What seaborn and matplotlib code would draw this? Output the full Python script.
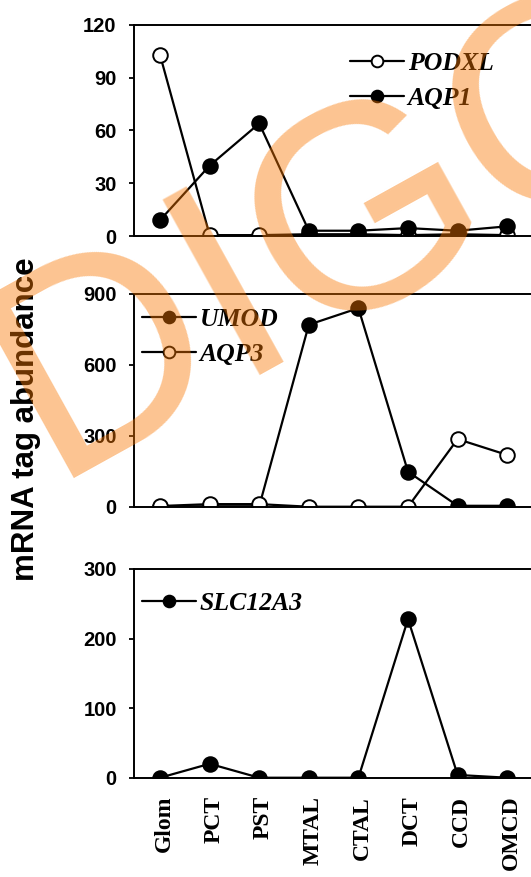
import numpy as np
import pandas as pd
import seaborn as sns
import matplotlib.pyplot as plt
from matplotlib.transforms import ScaledTranslation

# data
tissues = ["Glom", "PCT", "PST", "MTAL", "CTAL", "DCT", "CCD", "OMCD"]
podxl = [103, 0.5, 0.5, 1, 1, 0.5, 1, 0.5]
aqp1 = [9, 40, 64, 3, 3, 4.5, 3, 5.5]
umod = [0, 2, 2, 770, 840, 148, 4, 4]
aqp3 = [3, 11, 11, 0, 0, 0, 286, 219]
slc12a3 = [0, 20, 0, 0, 0, 228, 4, 0]

sns.set_style('ticks')
plt.rcParams['font.family'] = ['Liberation Sans', 'DejaVu Sans']
plt.rcParams['text.color'] = 'black'
plt.rcParams['xtick.color'] = 'black'
plt.rcParams['ytick.color'] = 'black'
plt.rcParams['axes.labelcolor'] = 'black'

fig = plt.figure(figsize=(5.31, 8.77), dpi=100)
ax1 = fig.add_axes([0.2524, 0.7309, 0.7514, 0.2406])
ax2 = fig.add_axes([0.2524, 0.4222, 0.7514, 0.2426])
ax3 = fig.add_axes([0.2524, 0.1132, 0.7514, 0.2380])

filled = dict(color='black', linewidth=1.6, marker='o', markersize=10.5,
              markerfacecolor='black', markeredgecolor='black', markeredgewidth=1.4)
hollow = dict(color='black', linewidth=1.6, marker='o', markersize=10.5,
              markerfacecolor='white', markeredgecolor='black', markeredgewidth=1.4)

sns.lineplot(x=tissues, y=podxl, ax=ax1, sort=False, label='PODXL', **hollow)
sns.lineplot(x=tissues, y=aqp1, ax=ax1, sort=False, label='AQP1', **filled)
sns.lineplot(x=tissues, y=umod, ax=ax2, sort=False, label='UMOD', **filled)
sns.lineplot(x=tissues, y=aqp3, ax=ax2, sort=False, label='AQP3', **hollow)
sns.lineplot(x=tissues, y=slc12a3, ax=ax3, sort=False, label='SLC12A3', **filled)

leg_font = dict(family='Liberation Serif', weight='bold', style='italic', size=18.5)
setup = [(ax1, [0, 30, 60, 90, 120], (0.541, 0.735)),
         (ax2, [0, 300, 600, 900], (0.02, 0.798)),
         (ax3, [0, 100, 200, 300], (0.02, 0.837))]
for ax, ticks, anchor in setup:
    ax.set_xlim(-0.524, 7.52)
    ax.set_ylim(0, ticks[-1])
    ax.set_yticks(ticks)
    ax.set_xlabel('')
    ax.set_ylabel('')
    for s in ax.spines.values():
        s.set_linewidth(1.4)
        s.set_color('black')
    ax.spines['right'].set_visible(False)
    ax.tick_params(axis='y', length=3.5, width=1.3, pad=9, labelsize=14.5)
    for t in ax.get_yticklabels():
        t.set_fontweight('bold')
    ax.tick_params(axis='x', length=0)
    leg = ax.legend(loc='center left', bbox_to_anchor=anchor, frameon=False,
                    prop=leg_font, handlelength=2.1, handletextpad=0.15,
                    borderpad=0, borderaxespad=0, labelspacing=0.45, markerscale=0.8)
    for t in leg.get_texts():
        t.set_color('black')

ax1.set_xticklabels([])
ax2.set_xticklabels([])
ax3.set_xticks(range(len(tissues)))
ax3.set_xticklabels(tissues, rotation=90, family='Liberation Serif',
                    weight='bold', size=17, va='top')
ax3.tick_params(axis='x', pad=13)
shift = ScaledTranslation(4 / 100, 0, fig.dpi_scale_trans)
for t in ax3.get_xticklabels():
    t.set_transform(t.get_transform() + shift)

fig.text(0.049, 0.522, 'mRNA tag abundance', rotation=90, ha='center', va='center',
         fontsize=22.5, fontweight='bold')

# watermark
fig.text(0.094, 0.455, 'DIGO', rotation=29, rotation_mode='anchor', ha='left',
         va='baseline', fontsize=210, color=(249/255, 119/255, 0), alpha=0.43,
         family='Liberation Sans', zorder=10)

fig.savefig('out.png', dpi=100)
